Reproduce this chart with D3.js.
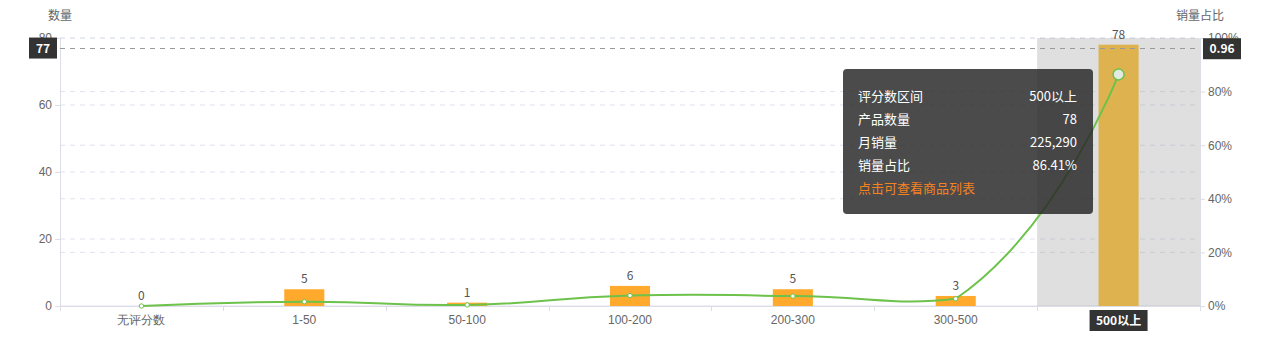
<!DOCTYPE html>
<html><head><meta charset="utf-8">
<script src="https://cdn.jsdelivr.net/npm/d3@7/dist/d3.min.js"></script>
<style>
html,body{margin:0;padding:0;background:#fff;}
svg{display:block;font-family:"Noto Sans CJK SC","Noto Sans",sans-serif;}
</style></head>
<body>
<svg id="c" width="1276" height="358"></svg>
<script>
const categories = ['无评分数','1-50','50-100','100-200','200-300','300-500','500以上'];
const counts = [0, 5, 1, 6, 5, 3, 78];
const shares = [0, 0.016, 0.004, 0.039, 0.037, 0.027, 0.8641];
const leftTicks = [0, 20, 40, 60, 80];
const rightTicks = [0, 0.2, 0.4, 0.6, 0.8, 1];
const tooltipRows = [['评分数区间','500以上'],['产品数量','78'],['月销量','225,290'],['销量占比','86.41%']];
const tooltipLink = '点击可查看商品列表';
const activeIndex = 6;
const pointerLeft = 77, pointerRight = 0.96;

const W = 1276, H = 358;
const L = 60, R = 1200, T = 38, B = 306;
const svg = d3.select('#c');

const x = d3.scaleBand().domain(categories).range([L, R]);
const yL = d3.scaleLinear().domain([0, 80]).range([B, T]);
const yR = d3.scaleLinear().domain([0, 1]).range([B, T]);

// ECharts-4 style smooth curve
function echartsSmooth(context) {
  let pts = [];
  return {
    areaStart(){}, areaEnd(){},
    lineStart(){ pts = []; },
    point(px, py){ pts.push([+px, +py]); },
    lineEnd(){
      const smooth = 0.5;
      const minX = d3.min(pts, p=>p[0]), maxX = d3.max(pts, p=>p[0]);
      const minY = d3.min(pts, p=>p[1]), maxY = d3.max(pts, p=>p[1]);
      const clamp = (p)=>[Math.max(minX, Math.min(maxX, p[0])), Math.max(minY, Math.min(maxY, p[1]))];
      let cp0 = pts[0].slice();
      context.moveTo(pts[0][0], pts[0][1]);
      for (let i = 1; i < pts.length; i++) {
        const p = pts[i], prev = pts[i-1], next = pts[i+1];
        let cp1, ratio = 0.5, v = [0,0];
        if (!next) { cp1 = p.slice(); }
        else {
          v = [next[0]-prev[0], next[1]-prev[1]];
          const lp = Math.hypot(p[0]-prev[0], p[1]-prev[1]);
          const ln = Math.hypot(next[0]-p[0], next[1]-p[1]);
          ratio = ln / (ln + lp);
          cp1 = [p[0] - v[0]*smooth*(1-ratio), p[1] - v[1]*smooth*(1-ratio)];
        }
        cp0 = clamp(cp0); cp1 = clamp(cp1);
        context.bezierCurveTo(cp0[0], cp0[1], cp1[0], cp1[1], p[0], p[1]);
        cp0 = [p[0] + v[0]*smooth*ratio, p[1] + v[1]*smooth*ratio];
      }
    }
  };
}

const gridColor = '#e0e3ec';
const textColor = '#666';

// grid lines
const g = svg.append('g');
leftTicks.forEach(t => {
  g.append('line').attr('x1', L).attr('x2', R).attr('y1', yL(t)).attr('y2', yL(t))
    .attr('stroke', gridColor).attr('stroke-dasharray', t === 0 ? null : '5,5');
});
rightTicks.forEach(t => {
  if (t === 0) return;
  g.append('line').attr('x1', L).attr('x2', R).attr('y1', yR(t)).attr('y2', yR(t))
    .attr('stroke', gridColor).attr('stroke-dasharray', '5,5');
});

// axis pointer shadow
svg.append('rect').attr('x', x(categories[activeIndex])).attr('y', T)
  .attr('width', x.bandwidth()).attr('height', B - T)
  .attr('fill', 'rgba(150,150,150,0.3)');

// axes lines
svg.append('line').attr('x1', L+0.5).attr('x2', L+0.5).attr('y1', T).attr('y2', B).attr('stroke', '#dcdde6');
svg.append('line').attr('x1', R+0.5).attr('x2', R+0.5).attr('y1', T).attr('y2', B).attr('stroke', '#dcdde6');
svg.append('line').attr('x1', L).attr('x2', R).attr('y1', B+0.5).attr('y2', B+0.5).attr('stroke', '#dcdde6');

// left axis
const ax = svg.append('g').attr('transform', `translate(${L},0)`)
  .call(d3.axisLeft(yL).tickValues(leftTicks).tickSize(5).tickPadding(3));
ax.select('.domain').remove();
ax.selectAll('line').attr('stroke', '#dcdde6');
ax.selectAll('text').attr('fill', textColor).style('font-size', '12px').style('font-family', 'inherit');

// right axis
const ar = svg.append('g').attr('transform', `translate(${R},0)`)
  .call(d3.axisRight(yR).tickValues(rightTicks).tickSize(5).tickPadding(3).tickFormat(d => Math.round(d*100) + '%'));
ar.select('.domain').remove();
ar.selectAll('line').attr('stroke', '#dcdde6');
ar.selectAll('text').attr('fill', textColor).style('font-size', '12px').style('font-family', 'inherit');

// x axis
const axb = svg.append('g').attr('transform', `translate(0,${B})`)
  .call(d3.axisBottom(x).tickSize(0).tickPadding(9));
axb.select('.domain').remove();
axb.selectAll('text').attr('fill', textColor).style('font-size', '12px').style('font-family', 'inherit');
categories.forEach((c, i) => {
  const xx = Math.round(x(c)) + 0.5;
  svg.append('line').attr('x1', xx).attr('x2', xx).attr('y1', B).attr('y2', B + 5).attr('stroke', '#dcdde6');
});
svg.append('line').attr('x1', R+0.5).attr('x2', R+0.5).attr('y1', B).attr('y2', B + 5).attr('stroke', '#dcdde6');

// axis names
svg.append('text').attr('x', L).attr('y', 20).attr('text-anchor', 'middle').attr('fill', textColor).style('font-size', '12px').text('数量');
svg.append('text').attr('x', R).attr('y', 20).attr('text-anchor', 'middle').attr('fill', textColor).style('font-size', '12px').text('销量占比');

// bars
const bw = x.bandwidth() * 0.246;
svg.selectAll('rect.bar').data(counts).enter().append('rect').attr('class', 'bar')
  .attr('x', (d, i) => x(categories[i]) + x.bandwidth()/2 - bw/2)
  .attr('y', d => yL(d)).attr('width', bw).attr('height', d => B - yL(d))
  .attr('fill', (d, i) => i === activeIndex ? '#deb24f' : '#ffaa2c');
svg.selectAll('text.blab').data(counts).enter().append('text').attr('class', 'blab')
  .attr('x', (d, i) => x(categories[i]) + x.bandwidth()/2)
  .attr('y', d => yL(d) - 6).attr('text-anchor', 'middle').attr('fill', '#555').style('font-size', '12px')
  .text(d => d);

// crosshair line
svg.append('line').attr('x1', L).attr('x2', R).attr('y1', Math.round(yL(pointerLeft)) + 0.5).attr('y2', Math.round(yL(pointerLeft)) + 0.5)
  .attr('stroke', '#999').attr('stroke-dasharray', '5,5');

// line
const line = d3.line().x((d, i) => x(categories[i]) + x.bandwidth()/2).y(d => yR(d)).curve(echartsSmooth);
svg.append('path').datum(shares).attr('d', line).attr('fill', 'none').attr('stroke', '#6cc24a').attr('stroke-width', 2);
svg.selectAll('circle.pt').data(shares).enter().append('circle').attr('class', 'pt')
  .attr('cx', (d, i) => x(categories[i]) + x.bandwidth()/2).attr('cy', d => yR(d))
  .attr('r', (d, i) => i === activeIndex ? 5.5 : 2.2)
  .attr('fill', (d, i) => i === activeIndex ? '#e2ebdf' : '#fff')
  .attr('stroke', '#6cc24a').attr('stroke-width', (d, i) => i === activeIndex ? 1.5 : 1);

// pointer labels
function darkLabel(cx, cy, txt, w) {
  svg.append('rect').attr('x', cx - w/2).attr('y', cy - 10.5).attr('width', w).attr('height', 21).attr('fill', '#333');
  svg.append('text').attr('x', cx).attr('y', cy + 4.5).attr('text-anchor', 'middle').attr('fill', '#fff')
    .style('font-size', '12px').style('font-weight', 'bold').text(txt);
}
darkLabel(43, yL(pointerLeft), String(pointerLeft), 28);
darkLabel(1222, yR(pointerRight), String(pointerRight), 38);
darkLabel(x(categories[activeIndex]) + x.bandwidth()/2, 320.5, categories[activeIndex], 58);

// tooltip
const tx = 843, ty = 69, tw = 250, th = 145;
svg.append('rect').attr('x', tx).attr('y', ty).attr('width', tw).attr('height', th).attr('rx', 4)
  .attr('fill', 'rgba(40,40,40,0.84)');
tooltipRows.forEach((r, i) => {
  const yy = 101 + i * 23;
  svg.append('text').attr('x', 858).attr('y', yy).attr('fill', '#fff').style('font-size', '13px').text(r[0]);
  svg.append('text').attr('x', 1077).attr('y', yy).attr('text-anchor', 'end').attr('fill', '#fff').style('font-size', '13px').text(r[1]);
});
svg.append('text').attr('x', 858).attr('y', 101 + 4 * 23).attr('fill', '#f5821f').style('font-size', '13px').text(tooltipLink);
</script>
</body></html>
